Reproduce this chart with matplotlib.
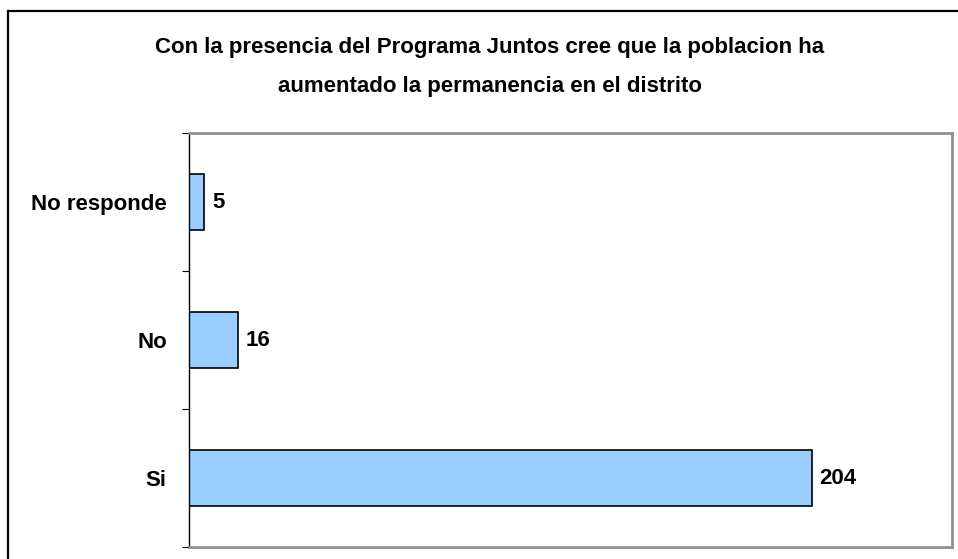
import matplotlib
matplotlib.use("Agg")
import matplotlib.pyplot as plt
from matplotlib.lines import Line2D

categories = ["Si", "No", "No responde"]
values = [204, 16, 5]
title = "Con la presencia del Programa Juntos cree que la poblacion ha\naumentado la permanencia en el distrito"

plt.rcParams['font.family'] = ['Liberation Sans Narrow', 'Liberation Sans', 'DejaVu Sans']
plt.rcParams['font.weight'] = 'bold'

W, H = 958, 559
fig = plt.figure(figsize=(W / 100, H / 100), dpi=100)

# outer frame (left and top visible, right/bottom cropped)
fig.add_artist(Line2D([8 / W, 8 / W], [0, 1 - 11 / H], color='black', lw=1.6, transform=fig.transFigure))
fig.add_artist(Line2D([8 / W, 1], [1 - 11 / H, 1 - 11 / H], color='black', lw=1.6, transform=fig.transFigure))

ax = fig.add_axes([189 / W, 1 - 547 / H, (952 - 189) / W, (547 - 133) / H])

y = list(range(len(categories)))
bars = ax.barh(y, values, height=0.41, color='#99CCFF', edgecolor='black', linewidth=1.2)

ax.set_xlim(0, 250)
ax.set_ylim(-0.5, len(categories) - 0.5)

ax.set_yticks(y)
ax.set_yticklabels(categories, fontsize=16, fontweight='bold')
ax.set_yticks([i - 0.5 for i in range(len(categories) + 1)], minor=True)
ax.tick_params(axis='y', which='major', length=0, pad=16)
ax.tick_params(axis='y', which='minor', length=5, width=0.8, direction='out')
ax.set_xticks([])

for s in ['top', 'right', 'bottom']:
    ax.spines[s].set_color('#909090')
    ax.spines[s].set_linewidth(2)
ax.spines['left'].set_color('black')
ax.spines['left'].set_linewidth(1)

for b, v in zip(bars, values):
    ax.annotate(str(v), xy=(b.get_width(), b.get_y() + b.get_height() / 2),
                xytext=(8, 0), textcoords='offset pixels', ha='left', va='center',
                fontsize=16, fontweight='bold')

fig.text(490 / W, 1 - 67 / H, title, ha='center', va='center', fontsize=16,
         fontweight='bold', linespacing=2.15)

fig.savefig("out.png", dpi=100)
